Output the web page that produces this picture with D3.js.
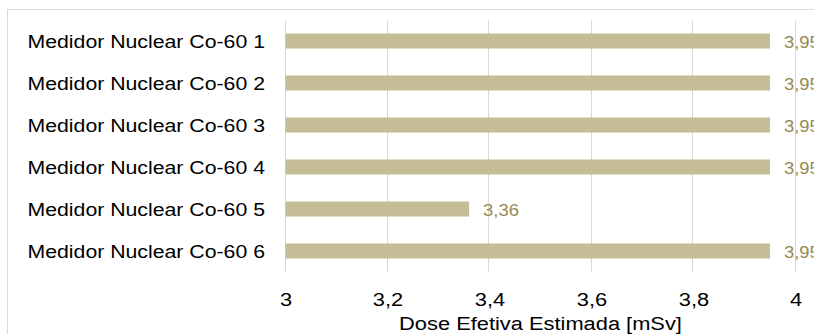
<!DOCTYPE html>
<html><head><meta charset="utf-8">
<script src="https://cdn.jsdelivr.net/npm/d3@7"></script>
<style>
html,body{margin:0;padding:0;background:#fff;overflow:hidden}
svg{display:block}
text{font-family:"Liberation Sans",Arial,sans-serif}
</style></head>
<body>
<script>
const categories = ["Medidor Nuclear Co-60 1","Medidor Nuclear Co-60 2","Medidor Nuclear Co-60 3","Medidor Nuclear Co-60 4","Medidor Nuclear Co-60 5","Medidor Nuclear Co-60 6"];
const values = [3.95, 3.95, 3.95, 3.95, 3.36, 3.95];
const tickValues = [3, 3.2, 3.4, 3.6, 3.8, 4];
const axisTitle = "Dose Efetiva Estimada [mSv]";

const W = 814, H = 334;
const SX = 1.15; // horizontal text stretch seen in the reference
const svg = d3.select("body").append("svg").attr("width", W).attr("height", H);

svg.append("rect").attr("x", 7.5).attr("y", 9.5).attr("width", 900).attr("height", 400)
  .attr("fill", "#fff").attr("stroke", "#d9d9d9").attr("stroke-width", 1);

const x = d3.scaleLinear().domain([3, 4]).range([285.5, 795.5]);
const y = d3.scaleBand().domain(categories).range([20, 272]).paddingInner(0.643).paddingOuter(0.3215);

const fmt = v => d3.format(".2~f")(v).replace(".", ",");
const fmtTick = v => d3.format("~g")(v).replace(".", ",");
const place = (px, py) => `translate(${px},${py}) scale(${SX},1)`;

// gridlines
svg.append("g").selectAll("line").data(tickValues).join("line")
  .attr("x1", d => Math.round(x(d)) - 0.5).attr("x2", d => Math.round(x(d)) - 0.5)
  .attr("y1", 20).attr("y2", 272)
  .attr("stroke", "#d9d9d9").attr("stroke-width", 1);

// bars
svg.append("g").selectAll("rect").data(values).join("rect")
  .attr("x", x(3)).attr("y", (d, i) => y(categories[i]))
  .attr("width", d => x(d) - x(3)).attr("height", y.bandwidth())
  .attr("fill", "#c4bd97");

// data labels
svg.append("g").selectAll("text").data(values).join("text")
  .attr("transform", (d, i) => place(x(d) + 14, y(categories[i]) + y.bandwidth() / 2))
  .attr("dy", "0.42em").attr("font-size", 16).attr("fill", "#948a54")
  .text(d => fmt(d));

// category labels
svg.append("g").selectAll("text").data(categories).join("text")
  .attr("transform", d => place(265, y(d) + y.bandwidth() / 2))
  .attr("dy", "0.36em").attr("text-anchor", "end").attr("font-size", 18.5).attr("fill", "#000")
  .text(d => d);

// x axis ticks
const axis = d3.axisBottom(x).tickValues(tickValues).tickSize(0).tickPadding(0).tickFormat(fmtTick);
const ag = svg.append("g").attr("transform", "translate(0,305.5)").call(axis);
ag.select(".domain").remove();
ag.selectAll("text").attr("font-size", 19).attr("fill", "#000").attr("dy", 0).attr("y", 0)
  .attr("transform", `scale(${SX},1)`)
  .attr("font-family", "Liberation Sans, Arial, sans-serif");

svg.append("text").attr("transform", place(540.5, 330)).attr("text-anchor", "middle")
  .attr("font-size", 19).attr("fill", "#000").text(axisTitle);
</script>
</body></html>
